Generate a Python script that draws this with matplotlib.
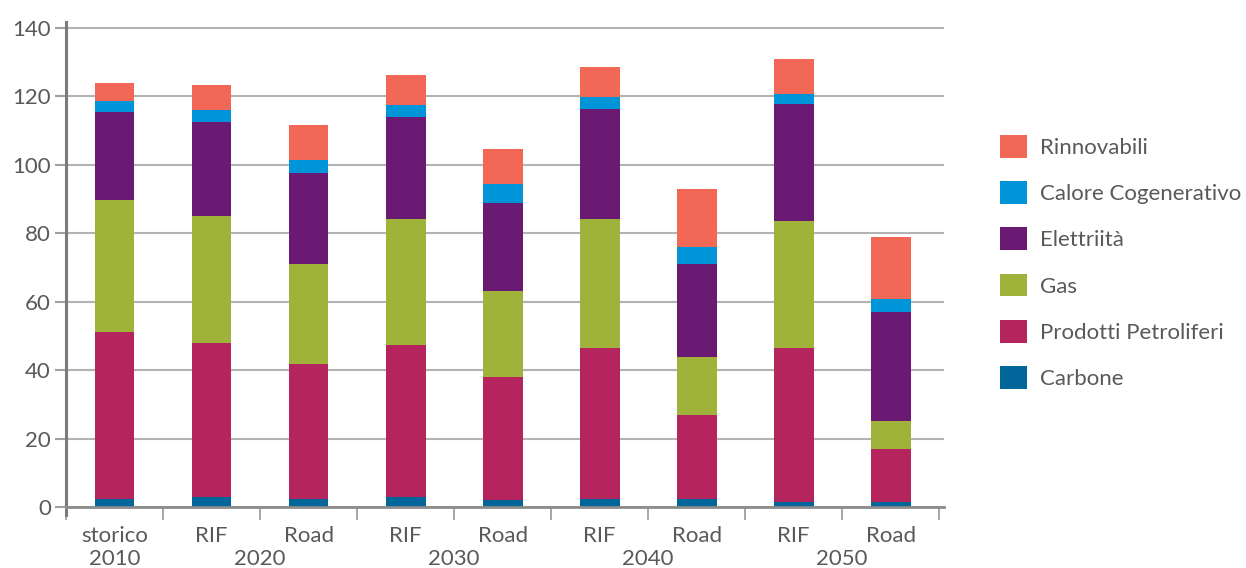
import matplotlib
matplotlib.use("Agg")
import matplotlib.pyplot as plt
from matplotlib.patches import Patch
from matplotlib.ticker import FixedLocator
import numpy as np

plt.rcParams['font.family'] = ['Lato', 'DejaVu Sans']

scenarios = ["storico", "RIF", "Road", "RIF", "Road", "RIF", "Road", "RIF", "Road"]
years = ["2010", "2020", "2030", "2040", "2050"]
year_positions = [0, 1.5, 3.5, 5.5, 7.5]

carbone = [2.3, 2.9, 2.3, 2.9, 2.0, 2.3, 2.3, 1.5, 1.5]
petroliferi = [48.9, 45.1, 39.5, 44.5, 36.0, 44.2, 24.6, 45.0, 15.5]
gas = [38.6, 37.1, 29.2, 36.8, 25.2, 37.7, 17.0, 37.1, 8.1]
elettricita = [25.7, 27.5, 26.7, 29.8, 25.7, 32.2, 27.1, 34.2, 31.9]
calore = [3.2, 3.5, 3.8, 3.5, 5.5, 3.5, 5.0, 3.0, 3.8]
rinnovabili = [5.3, 7.3, 10.2, 8.8, 10.3, 8.7, 17.0, 10.2, 18.2]

series = [
    ("Carbone", carbone, "#00669A"),
    ("Prodotti Petroliferi", petroliferi, "#B5245C"),
    ("Gas", gas, "#9FB23A"),
    ("Elettriità", elettricita, "#6A1A73"),
    ("Calore Cogenerativo", calore, "#0095D9"),
    ("Rinnovabili", rinnovabili, "#F26856"),
]

text_color = "#595959"
fs = 16

fig = plt.figure(figsize=(12.46, 5.68), dpi=100)
ax = fig.add_axes([0.053, 0.093, 0.7047, 0.8687])

x = np.arange(len(scenarios))
bottom = np.zeros(len(scenarios))
for name, vals, color in series:
    ax.bar(x, vals, width=0.41, bottom=bottom, color=color, zorder=3, linewidth=0)
    bottom += np.array(vals)

ax.set_xlim(-0.5, 8.55)
ax.set_ylim(-2.4, 141.8)

# y axis
ax.set_yticks(np.arange(0, 141, 20))
ax.tick_params(axis='y', length=8, width=1.5, color="#a0a0a0", labelsize=fs,
               labelcolor=text_color, pad=3)
ax.yaxis.grid(True, color="#b3b3b3", linewidth=1.5, zorder=0)
ax.set_axisbelow(True)

# x axis: labels at bar centres, tick marks at category boundaries
ax.set_xticks(x)
ax.set_xticklabels(scenarios)
ax.xaxis.set_minor_locator(FixedLocator(np.arange(-0.5, 9, 1.0)))
ax.tick_params(axis='x', which='major', length=0, labelsize=fs,
               labelcolor=text_color, pad=13.5)
ax.tick_params(axis='x', which='minor', length=9, width=1.3, color="#a0a0a0")

for pos, yr in zip(year_positions, years):
    ax.annotate(yr, xy=(pos, 0), xycoords=('data', 'data'),
                xytext=(0, -30.5), textcoords='offset points',
                ha='center', va='top', fontsize=fs, color=text_color)

for side in ("top", "right"):
    ax.spines[side].set_visible(False)
ax.spines['bottom'].set_position(('data', 0))
ax.spines['bottom'].set_color("#8c8c8c")
ax.spines['bottom'].set_linewidth(2)
ax.spines['left'].set_color("#7a7a7a")
ax.spines['left'].set_linewidth(2.2)
ax.spines['bottom'].set_zorder(4)

handles = [Patch(facecolor=c, edgecolor='none', label=n) for n, _, c in reversed(series)]
fig.legend(handles=handles, loc='upper left',
           bbox_to_anchor=(1000 / 1246, 1 - 135 / 568),
           frameon=False, borderpad=0, borderaxespad=0,
           fontsize=fs, labelcolor=text_color,
           handlelength=1.2, handleheight=1.2,
           handletextpad=0.6, labelspacing=1.05)

fig.savefig("out.png", dpi=100)
